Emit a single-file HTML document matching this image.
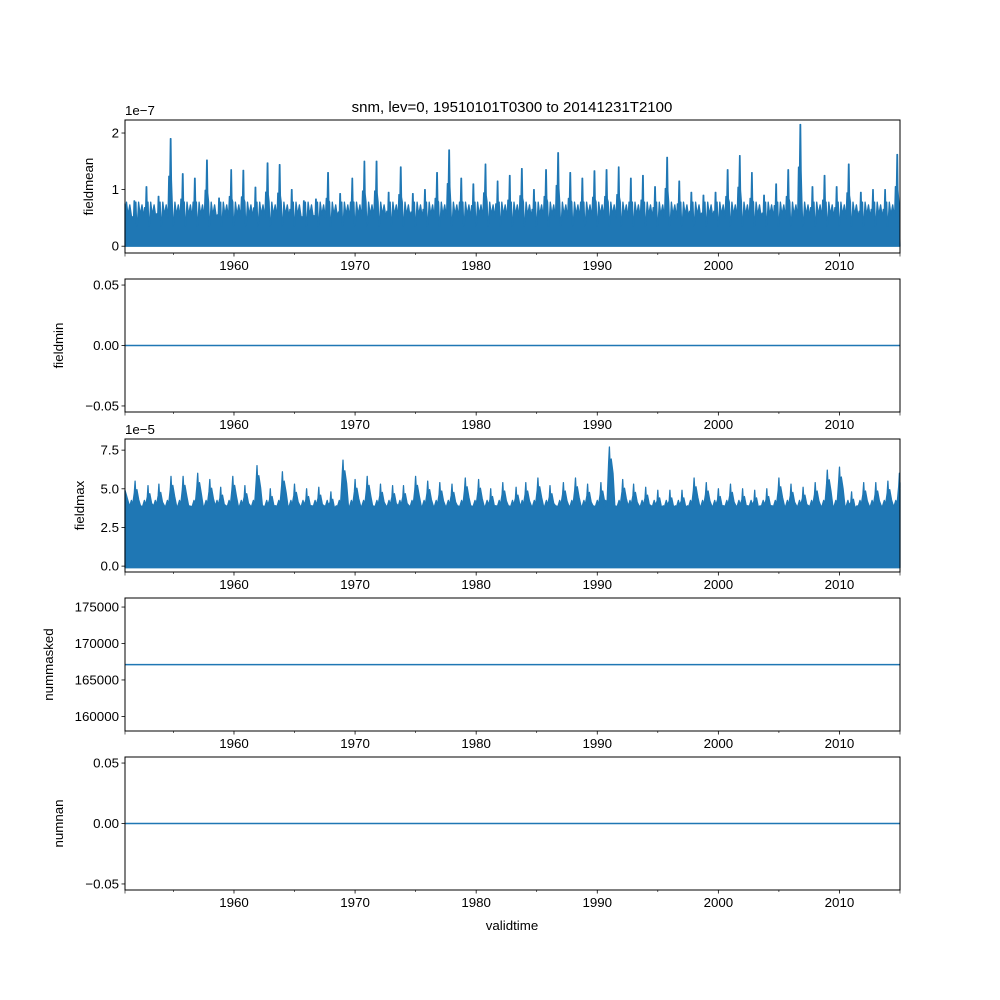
<!DOCTYPE html>
<html><head><meta charset="utf-8"><style>
body{margin:0;background:#fff}
svg{display:block;font-family:"Liberation Sans","DejaVu Sans",sans-serif}
</style></head><body>
<svg id="fig" width="1000" height="1000" viewBox="0 0 1000 1000" xmlns="http://www.w3.org/2000/svg">
<rect width="1000" height="1000" fill="#fff"/>
<text x="512" y="112" text-anchor="middle" font-size="15">snm, lev=0, 19510101T0300 to 20141231T2100</text>
<text x="512" y="930" text-anchor="middle" font-size="13.3">validtime</text>
</svg>
<script>
// fieldmean annual peaks (1e-7), 1951..2014
const meanYears = [];
for (let y = 1951; y <= 2014; y++) meanYears.push(y);
const meanPeaks = [.8,1.05,.88,1.9,1.28,1.2,1.52,.85,1.35,1.34,1.04,1.47,1.44,1.0,.8,.83,1.3,.93,1.2,1.5,1.5,.95,1.4,.93,1.0,1.3,1.7,1.2,1.1,1.45,1.15,1.25,1.37,1.0,1.35,1.65,1.3,1.2,1.33,1.35,1.4,1.2,1.25,1.05,1.57,1.15,.95,.9,.95,1.35,1.6,1.3,.9,1.1,1.35,2.15,1.05,1.25,1.05,1.45,.95,1.0,1.0,1.62];
const meanBase = 0.5;
const meanShoulder = 0.78;
// fieldmax peaks (1e-5)
const maxDates = [1951.83,1952.9,1953.8,1954.8,1955.8,1957.0,1958.0,1958.9,1959.9,1960.9,1961.9,1963.0,1964.0,1965.0,1966.0,1967.0,1968.0,1969.0,1970.0,1971.0,1972.1,1973.1,1974.0,1975.0,1976.0,1977.0,1978.0,1979.1,1980.2,1981.2,1982.2,1983.3,1984.1,1985.1,1986.1,1987.2,1988.2,1989.2,1990.3,1991.0,1992.1,1993.0,1994.0,1995.0,1996.0,1997.0,1998.0,1999.0,2000.0,2001.0,2002.0,2003.0,2004.0,2005.0,2006.0,2007.0,2008.0,2009.0,2010.0,2011.0,2012.0,2013.0,2014.0,2014.95];
const maxPeaks = [5.5,5.2,5.3,5.8,5.8,6.0,5.6,5.1,5.8,5.2,6.5,5.0,6.1,5.3,5.0,5.1,4.8,6.85,5.6,5.8,5.3,5.2,5.2,5.8,5.5,5.4,5.3,5.7,5.6,5.0,5.4,5.1,5.4,5.7,5.2,5.4,5.7,5.3,5.4,7.7,5.6,5.3,5.1,4.9,4.9,4.9,5.7,5.4,5.0,5.3,5.0,4.9,5.0,5.7,5.3,5.1,5.4,6.2,6.4,4.8,5.4,5.4,5.5,6.0];
const maxBase = 3.85;
const maskedValue = 167100;
const minValue = 0, nanValue = 0;
const xTicks = [1960,1970,1980,1990,2000,2010];
const xMinor = [1955,1965,1975,1985,1995,2005];

const NS = "http://www.w3.org/2000/svg";
const svg = document.getElementById('fig');
const X0 = 125, X1 = 900, XMIN = 1951, XMAX = 2015;
const xs = v => X0 + (Math.min(XMAX, Math.max(XMIN, v)) - XMIN) / (XMAX - XMIN) * (X1 - X0);
const C = '#1f77b4';
function el(tag, attrs, parent) {
  const e = document.createElementNS(NS, tag);
  for (const k in attrs) e.setAttribute(k, attrs[k]);
  (parent || svg).appendChild(e);
  return e;
}
const panels = [
  {name:'fieldmean', top:120, lo:-0.12, hi:2.23, ticks:[0,1,2], labels:['0','1','2'], offset:'1e\u22127', ylx:93},
  {name:'fieldmin', top:279, lo:-0.055, hi:0.055, ticks:[-0.05,0,0.05], labels:['\u22120.05','0.00','0.05'], ylx:63},
  {name:'fieldmax', top:439, lo:-0.38, hi:8.22, ticks:[0,2.5,5,7.5], labels:['0.0','2.5','5.0','7.5'], offset:'1e\u22125', ylx:84},
  {name:'nummasked', top:598, lo:158000, hi:176240, ticks:[160000,165000,170000,175000], labels:['160000','165000','170000','175000'], ylx:53},
  {name:'numnan', top:757, lo:-0.055, hi:0.055, ticks:[-0.05,0,0.05], labels:['\u22120.05','0.00','0.05'], ylx:63}
];
const H = 133;
panels.forEach((p, i) => {
  const g = el('g', {});
  
  
  const ys = v => p.top + H - (v - p.lo) / (p.hi - p.lo) * H;
  if (p.name === 'fieldmean') {
    const pts = [[XMIN, 0.75]];
    meanYears.forEach((y, k) => {
      const pk = meanPeaks[k];
      pts.push([y + 0.02, meanBase - 0.1], [y + 0.12, meanShoulder], [y + 0.25, meanBase + 0.05], [y + 0.4, meanShoulder - 0.05],
        [y + 0.55, meanBase], [y + 0.62, pk * 0.65], [y + 0.7, pk * 0.6], [y + 0.75, pk], [y + 0.79, pk], [y + 0.83, pk * 0.62], [y + 0.9, meanShoulder], [y + 0.97, meanBase - 0.15]);
    });
    let d = `M${xs(XMIN)},${ys(0)}`;
    pts.forEach(q => { d += ` L${xs(q[0]).toFixed(1)},${ys(q[1]).toFixed(1)}`; });
    d += ` L${xs(XMAX)},${ys(0)} Z`;
    const a = el('path', {d, fill:C, stroke:C, 'stroke-width':1.3, 'stroke-linejoin':'round'}, g);
    
    
  } else if (p.name === 'fieldmax') {
    let d = `M${xs(XMIN)},${ys(-0.1)} L${xs(XMIN)},${ys(4.9)}`;
    maxDates.forEach((t, k) => {
      const pk = maxPeaks[k];
      d += ` L${xs(t - 0.45).toFixed(1)},${ys(maxBase).toFixed(1)}`;
      d += ` L${xs(t - 0.3).toFixed(1)},${ys(maxBase + 0.4).toFixed(1)}`;
      d += ` L${xs(t - 0.2).toFixed(1)},${ys(maxBase + 0.1).toFixed(1)}`;
      d += ` L${xs(t - 0.06).toFixed(1)},${ys(pk * 0.86).toFixed(1)}`;
      d += ` L${xs(t).toFixed(1)},${ys(pk).toFixed(1)}`;
      d += ` L${xs(t + 0.06).toFixed(1)},${ys(pk * 0.84).toFixed(1)}`;
      d += ` L${xs(t + 0.15).toFixed(1)},${ys(pk * 0.9).toFixed(1)}`;
      d += ` L${xs(t + 0.3).toFixed(1)},${ys(pk * 0.78).toFixed(1)}`;
      d += ` L${xs(t + 0.45).toFixed(1)},${ys(maxBase + 0.05).toFixed(1)}`;
    });
    d += ` L${xs(XMAX)},${ys(maxBase)} L${xs(XMAX)},${ys(-0.1)} Z`;
    const a = el('path', {d, fill:C, stroke:C, 'stroke-width':1.3, 'stroke-linejoin':'round'}, g);
    
    
  } else {
    const v = p.name === 'nummasked' ? maskedValue : (p.name === 'fieldmin' ? minValue : nanValue);
    const l = el('line', {x1:X0, x2:X1, y1:ys(v), y2:ys(v), stroke:C, 'stroke-width':1.5}, g);
    
    
  }
  const fr = el('rect', {x:X0, y:p.top, width:X1 - X0, height:H, fill:'none', stroke:'#000', 'stroke-width':1}, g);
  
  
  p.ticks.forEach((t, k) => {
    const y = ys(t);
    el('line', {x1:X0 - 3.5, x2:X0, y1:y, y2:y, stroke:'#000', 'stroke-width':0.8}, g);
    const tx = el('text', {x:X0 - 6, y:y + 4.5, 'text-anchor':'end', 'font-size':13.3}, g);
    tx.textContent = p.labels[k];
    
    
  });
  if (p.offset) {
    const o = el('text', {x:X0, y:p.top - 5, 'font-size':13.3}, g);
    o.textContent = p.offset;
    
    
  }
  const yb = p.top + H;
  xTicks.forEach(t => {
    el('line', {x1:xs(t), x2:xs(t), y1:yb, y2:yb + 3.5, stroke:'#000', 'stroke-width':0.8}, g);
    const tx = el('text', {x:xs(t), y:yb + 17, 'text-anchor':'middle', 'font-size':13.3}, g);
    tx.textContent = t;
    
    
  });
  xMinor.concat([XMIN, XMAX]).forEach(t => {
    el('line', {x1:xs(t), x2:xs(t), y1:yb, y2:yb + (t === XMIN || t === XMAX ? 3.5 : 2), stroke:'#000', 'stroke-width':0.6}, g);
  });
  const yl = el('text', {x:p.ylx, y:p.top + H / 2, 'text-anchor':'middle', 'font-size':13.3, transform:`rotate(-90 ${p.ylx} ${p.top + H / 2})`}, g);
  yl.textContent = p.name;
  
  
});
</script>
</body></html>
